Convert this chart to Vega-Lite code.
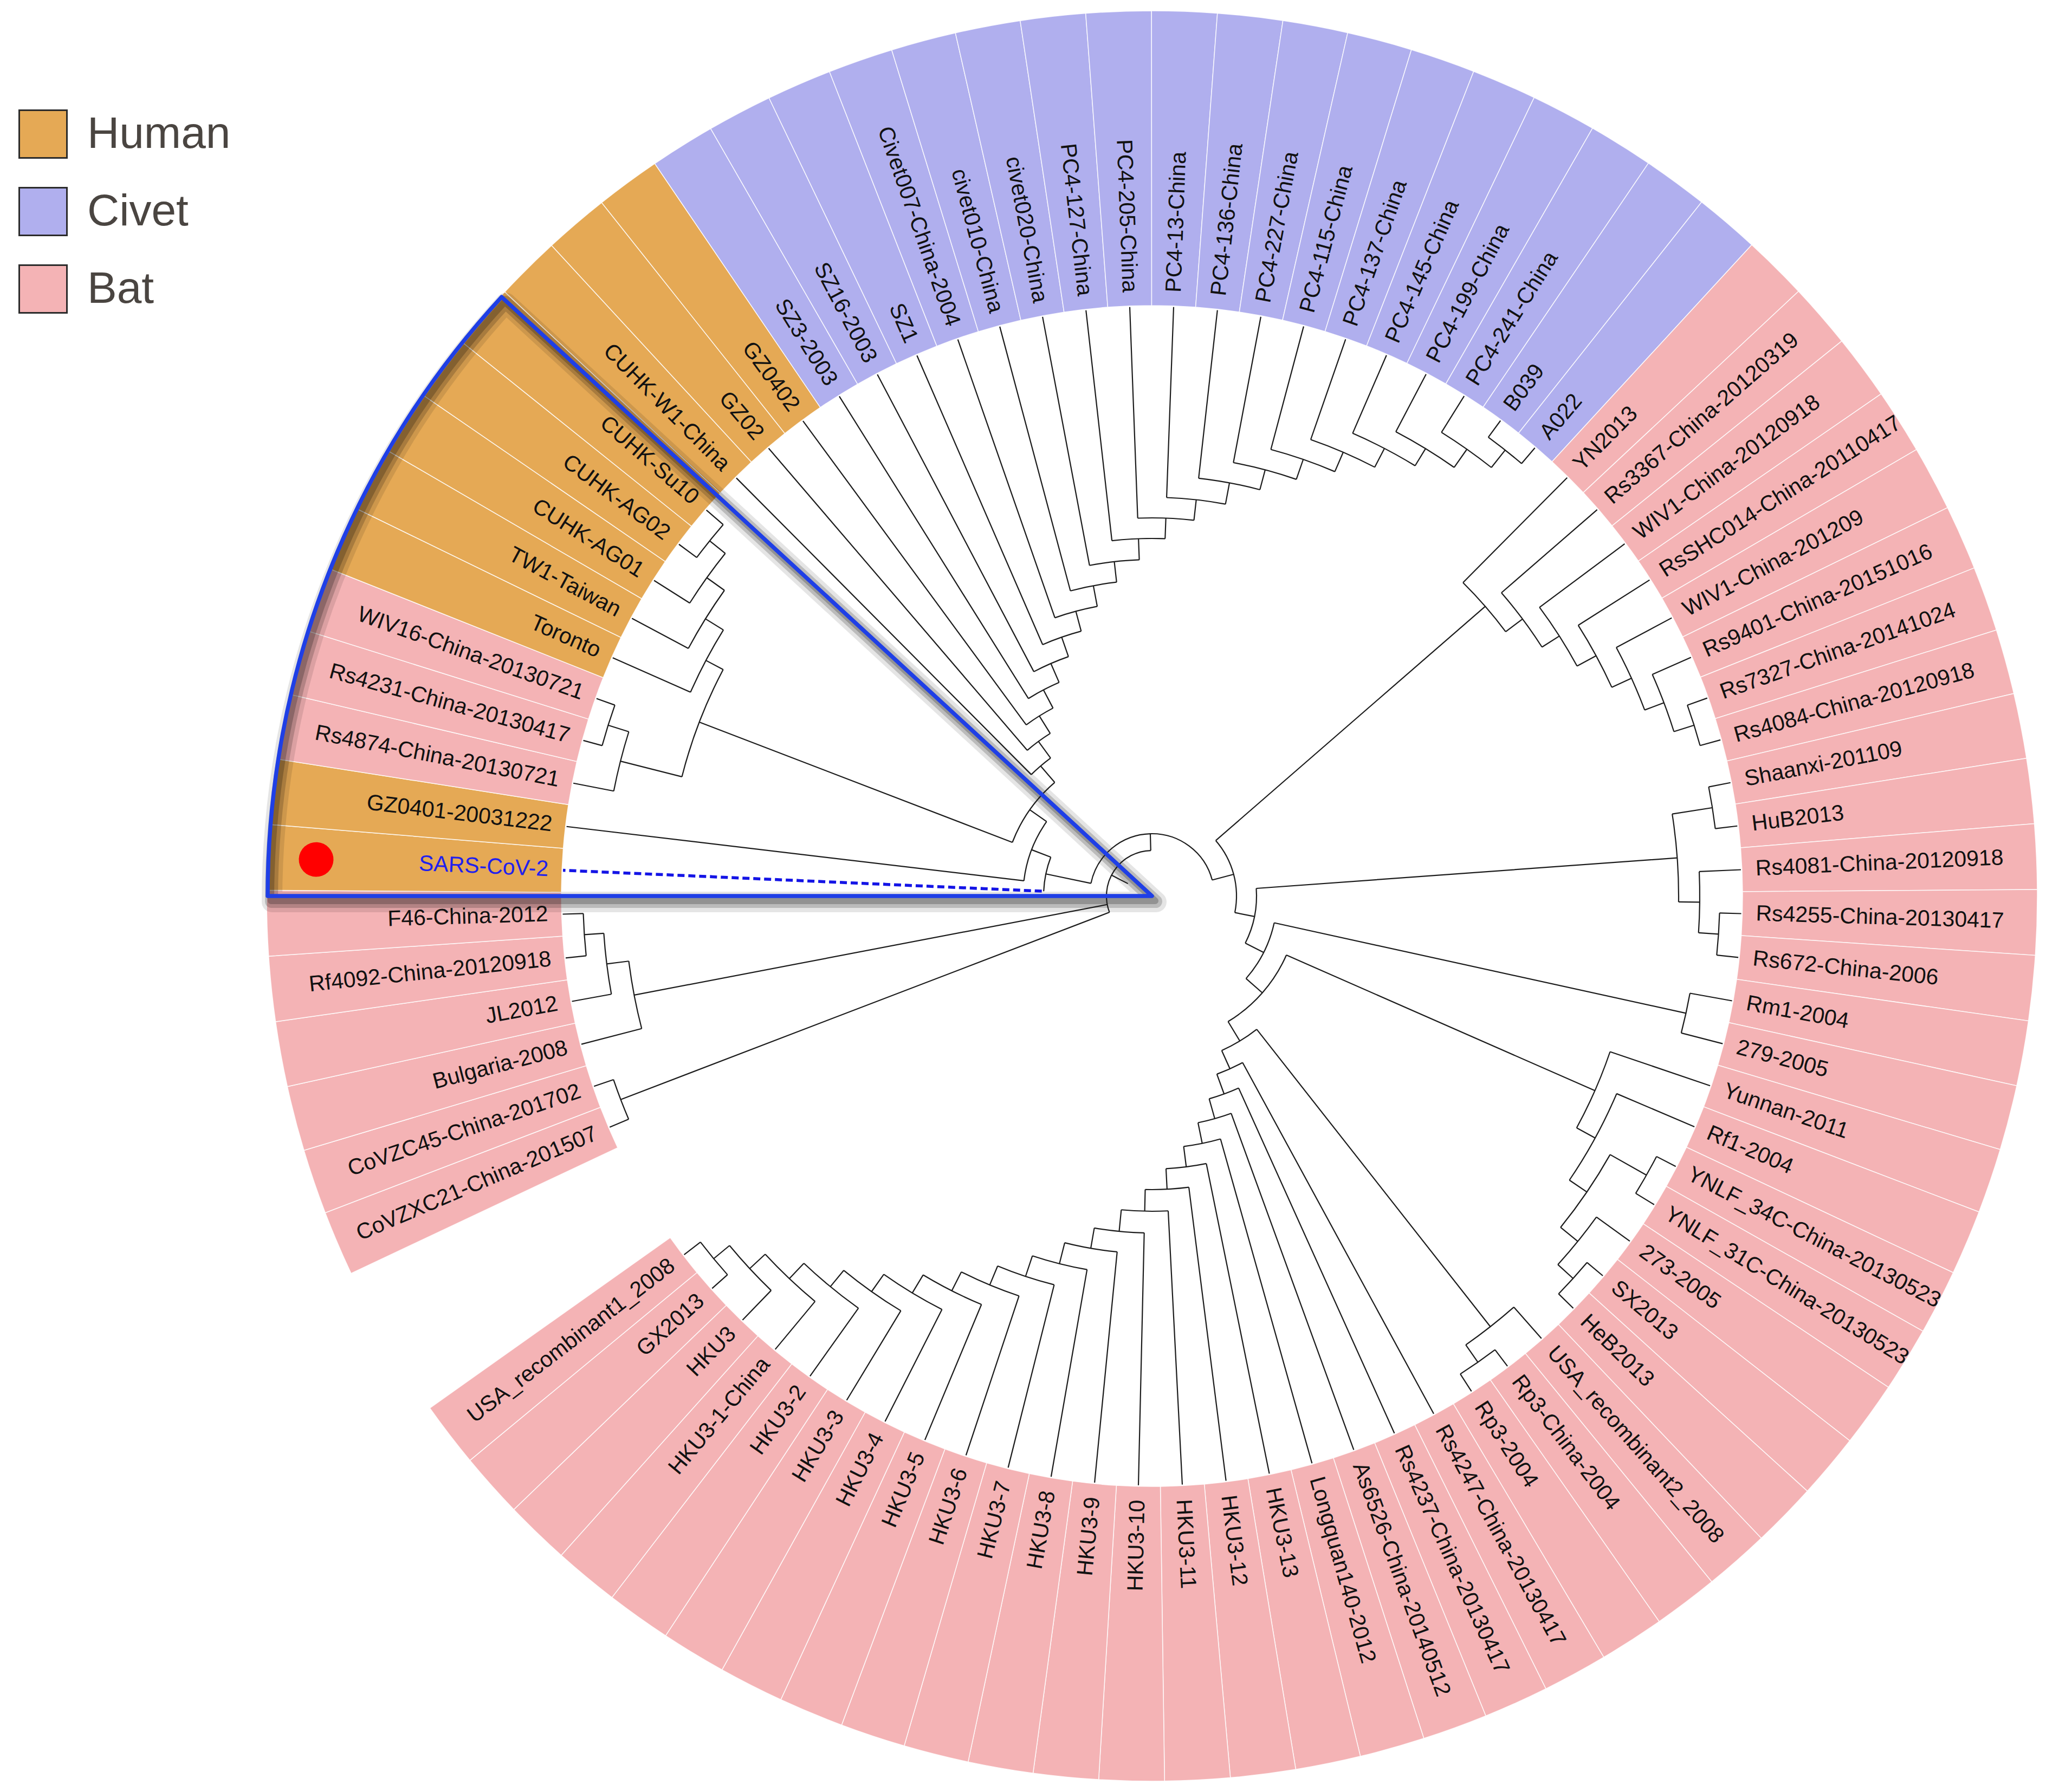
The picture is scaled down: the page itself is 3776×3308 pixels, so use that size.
{
 "$schema": "https://vega.github.io/schema/vega-lite/v6.json",
 "width": 3300,
 "height": 3308,
 "autosize": {"type": "none"},
 "padding": {"left": 476, "top": 0, "right": 0, "bottom": 0},
 "background": "#ffffff",
 "config": {"view": {"stroke": null}, "font": "Liberation Sans"},
 "datasets": {
  "leaves": [
   {"k":0,"name":"CoVZXC21-China-201507","host":"Bat","pr":1050},
   {"k":1,"name":"CoVZC45-China-201702","host":"Bat","pr":1050},
   {"k":2,"name":"Bulgaria-2008","host":"Bat","pr":973},
   {"k":3,"name":"JL2012","host":"Bat","pr":1014},
   {"k":4,"name":"Rf4092-China-20120918","host":"Bat","pr":1050},
   {"k":5,"name":"F46-China-2012","host":"Bat","pr":1050},
   {"k":6,"name":"SARS-CoV-2","host":"Human","pr":200},
   {"k":7,"name":"GZ0401-20031222","host":"Human","pr":238},
   {"k":8,"name":"Rs4874-China-20130721","host":"Bat","pr":1012},
   {"k":9,"name":"Rs4231-China-20130417","host":"Bat","pr":1052},
   {"k":10,"name":"WIV16-China-20130721","host":"Bat","pr":1052},
   {"k":11,"name":"Toronto","host":"Human","pr":931},
   {"k":12,"name":"TW1-Taiwan","host":"Human","pr":970},
   {"k":13,"name":"CUHK-AG01","host":"Human","pr":1010},
   {"k":14,"name":"CUHK-AG02","host":"Human","pr":1047},
   {"k":15,"name":"CUHK-Su10","host":"Human","pr":1047},
   {"k":16,"name":"CUHK-W1-China","host":"Human","pr":316},
   {"k":17,"name":"GZ02","host":"Human","pr":354},
   {"k":18,"name":"GZ0402","host":"Human","pr":392},
   {"k":19,"name":"SZ3-2003","host":"Civet","pr":430},
   {"k":20,"name":"SZ16-2003","host":"Civet","pr":468},
   {"k":21,"name":"SZ1","host":"Civet","pr":506},
   {"k":22,"name":"Civet007-China-2004","host":"Civet","pr":544},
   {"k":23,"name":"civet010-China","host":"Civet","pr":583},
   {"k":24,"name":"civet020-China","host":"Civet","pr":621},
   {"k":25,"name":"PC4-127-China","host":"Civet","pr":660},
   {"k":26,"name":"PC4-205-China","host":"Civet","pr":698},
   {"k":27,"name":"PC4-13-China","host":"Civet","pr":736},
   {"k":28,"name":"PC4-136-China","host":"Civet","pr":776},
   {"k":29,"name":"PC4-227-China","host":"Civet","pr":814},
   {"k":30,"name":"PC4-115-China","host":"Civet","pr":853},
   {"k":31,"name":"PC4-137-China","host":"Civet","pr":892},
   {"k":32,"name":"PC4-145-China","host":"Civet","pr":931},
   {"k":33,"name":"PC4-199-China","host":"Civet","pr":968},
   {"k":34,"name":"PC4-241-China","host":"Civet","pr":1009},
   {"k":35,"name":"B039","host":"Civet","pr":1050},
   {"k":36,"name":"A022","host":"Civet","pr":1050},
   {"k":37,"name":"YN2013","host":"Bat","pr":815},
   {"k":38,"name":"Rs3367-China-20120319","host":"Bat","pr":854},
   {"k":39,"name":"WIV1-China-20120918","host":"Bat","pr":892},
   {"k":40,"name":"RsSHC014-China-20110417","host":"Bat","pr":932},
   {"k":41,"name":"WIV1-China-201209","host":"Bat","pr":972},
   {"k":42,"name":"Rs9401-China-20151016","host":"Bat","pr":1010},
   {"k":43,"name":"Rs7327-China-20141024","host":"Bat","pr":1049},
   {"k":44,"name":"Rs4084-China-20120918","host":"Bat","pr":1049},
   {"k":45,"name":"Shaanxi-201109","host":"Bat","pr":1047},
   {"k":46,"name":"HuB2013","host":"Bat","pr":1047},
   {"k":47,"name":"Rs4081-China-20120918","host":"Bat","pr":1011},
   {"k":48,"name":"Rs4255-China-20130417","host":"Bat","pr":1048},
   {"k":49,"name":"Rs672-China-2006","host":"Bat","pr":1048},
   {"k":50,"name":"Rm1-2004","host":"Bat","pr":1009},
   {"k":51,"name":"279-2005","host":"Bat","pr":1009},
   {"k":52,"name":"Yunnan-2011","host":"Bat","pr":893},
   {"k":53,"name":"Rf1-2004","host":"Bat","pr":932},
   {"k":54,"name":"YNLF_34C-China-20130523","host":"Bat","pr":1048},
   {"k":55,"name":"YNLF_31C-China-20130523","host":"Bat","pr":1048},
   {"k":56,"name":"273-2005","host":"Bat","pr":1012},
   {"k":57,"name":"SX2013","host":"Bat","pr":1050},
   {"k":58,"name":"HeB2013","host":"Bat","pr":1050},
   {"k":59,"name":"USA_recombinant2_2008","host":"Bat","pr":1011},
   {"k":60,"name":"Rp3-China-2004","host":"Bat","pr":1050},
   {"k":61,"name":"Rp3-2004","host":"Bat","pr":1050},
   {"k":62,"name":"Rs4247-China-20130417","host":"Bat","pr":350},
   {"k":63,"name":"Rs4237-China-20130417","host":"Bat","pr":389},
   {"k":64,"name":"As6526-China-20140512","host":"Bat","pr":427},
   {"k":65,"name":"Longquan140-2012","host":"Bat","pr":466},
   {"k":66,"name":"HKU3-13","host":"Bat","pr":504},
   {"k":67,"name":"HKU3-12","host":"Bat","pr":542},
   {"k":68,"name":"HKU3-11","host":"Bat","pr":582},
   {"k":69,"name":"HKU3-10","host":"Bat","pr":622},
   {"k":70,"name":"HKU3-9","host":"Bat","pr":660},
   {"k":71,"name":"HKU3-8","host":"Bat","pr":700},
   {"k":72,"name":"HKU3-7","host":"Bat","pr":740},
   {"k":73,"name":"HKU3-6","host":"Bat","pr":778},
   {"k":74,"name":"HKU3-5","host":"Bat","pr":817},
   {"k":75,"name":"HKU3-4","host":"Bat","pr":856},
   {"k":76,"name":"HKU3-3","host":"Bat","pr":895},
   {"k":77,"name":"HKU3-2","host":"Bat","pr":934},
   {"k":78,"name":"HKU3-1-China","host":"Bat","pr":973},
   {"k":79,"name":"HKU3","host":"Bat","pr":1012},
   {"k":80,"name":"GX2013","host":"Bat","pr":1050},
   {"k":81,"name":"USA_recombinant1_2008","host":"Bat","pr":1050}
  ],
  "links": [
   {"t":11.8,"r0":50,"r1":84},
   {"t":0.5,"r0":84,"r1":1050},
   {"t":2.875,"r0":84,"r1":973},
   {"t":3.75,"r0":973,"r1":1014},
   {"t":4.5,"r0":1014,"r1":1050},
   {"t":26.15,"r0":84,"r1":115},
   {"t":8.17,"r0":115,"r1":200},
   {"t":10.34,"r0":200,"r1":238},
   {"t":13.67,"r0":238,"r1":276},
   {"t":10.34,"r0":276,"r1":895},
   {"t":8.75,"r0":895,"r1":1012},
   {"t":9.5,"r0":1012,"r1":1052},
   {"t":11.94,"r0":895,"r1":931},
   {"t":12.875,"r0":931,"r1":970},
   {"t":13.75,"r0":970,"r1":1010},
   {"t":14.5,"r0":1010,"r1":1047},
   {"t":17.0,"r0":276,"r1":316},
   {"t":18.0,"r0":316,"r1":354},
   {"t":19.0,"r0":354,"r1":392},
   {"t":20.0,"r0":392,"r1":430},
   {"t":21.0,"r0":430,"r1":468},
   {"t":22.0,"r0":468,"r1":506},
   {"t":23.0,"r0":506,"r1":544},
   {"t":24.0,"r0":544,"r1":583},
   {"t":25.0,"r0":583,"r1":621},
   {"t":26.0,"r0":621,"r1":660},
   {"t":27.0,"r0":660,"r1":698},
   {"t":28.0,"r0":698,"r1":736},
   {"t":28.996,"r0":736,"r1":776},
   {"t":29.992,"r0":776,"r1":814},
   {"t":30.984,"r0":814,"r1":853},
   {"t":31.969,"r0":853,"r1":892},
   {"t":32.938,"r0":892,"r1":931},
   {"t":33.875,"r0":931,"r1":968},
   {"t":34.75,"r0":968,"r1":1009},
   {"t":35.5,"r0":1009,"r1":1050},
   {"t":44.12,"r0":115,"r1":156},
   {"t":37.99,"r0":156,"r1":815},
   {"t":38.98,"r0":815,"r1":854},
   {"t":39.97,"r0":854,"r1":892},
   {"t":40.94,"r0":892,"r1":932},
   {"t":41.875,"r0":932,"r1":972},
   {"t":42.75,"r0":972,"r1":1010},
   {"t":43.5,"r0":1010,"r1":1049},
   {"t":50.25,"r0":156,"r1":193},
   {"t":46.625,"r0":193,"r1":972},
   {"t":45.5,"r0":972,"r1":1047},
   {"t":47.75,"r0":972,"r1":1011},
   {"t":48.5,"r0":1011,"r1":1048},
   {"t":53.88,"r0":193,"r1":231},
   {"t":50.5,"r0":231,"r1":1009},
   {"t":57.27,"r0":231,"r1":271},
   {"t":53.16,"r0":271,"r1":893},
   {"t":54.31,"r0":893,"r1":932},
   {"t":55.625,"r0":932,"r1":971},
   {"t":54.5,"r0":971,"r1":1048},
   {"t":56.75,"r0":971,"r1":1012},
   {"t":57.5,"r0":1012,"r1":1050},
   {"t":61.375,"r0":271,"r1":313},
   {"t":59.75,"r0":313,"r1":1011},
   {"t":60.5,"r0":1011,"r1":1050},
   {"t":63.0,"r0":313,"r1":350},
   {"t":64.0,"r0":350,"r1":389},
   {"t":65.0,"r0":389,"r1":427},
   {"t":66.0,"r0":427,"r1":466},
   {"t":67.0,"r0":466,"r1":504},
   {"t":68.0,"r0":504,"r1":542},
   {"t":69.0,"r0":542,"r1":582},
   {"t":70.0,"r0":582,"r1":622},
   {"t":71.0,"r0":622,"r1":660},
   {"t":72.0,"r0":660,"r1":700},
   {"t":72.998,"r0":700,"r1":740},
   {"t":73.996,"r0":740,"r1":778},
   {"t":74.992,"r0":778,"r1":817},
   {"t":75.984,"r0":817,"r1":856},
   {"t":76.969,"r0":856,"r1":895},
   {"t":77.938,"r0":895,"r1":934},
   {"t":78.875,"r0":934,"r1":973},
   {"t":79.75,"r0":973,"r1":1012},
   {"t":80.5,"r0":1012,"r1":1050}
  ],
  "spans": [
   {"t1":0.5,"t2":26.15,"r":84},
   {"t1":0,"t2":1,"r":1050},
   {"t1":2,"t2":3.75,"r":973},
   {"t1":3,"t2":4.5,"r":1014},
   {"t1":4,"t2":5,"r":1050},
   {"t1":8.17,"t2":44.12,"r":115},
   {"t1":6,"t2":10.34,"r":200},
   {"t1":7,"t2":13.67,"r":238},
   {"t1":10.34,"t2":17.0,"r":276},
   {"t1":8.75,"t2":11.94,"r":895},
   {"t1":8,"t2":9.5,"r":1012},
   {"t1":9,"t2":10,"r":1052},
   {"t1":11,"t2":12.875,"r":931},
   {"t1":12,"t2":13.75,"r":970},
   {"t1":13,"t2":14.5,"r":1010},
   {"t1":14,"t2":15,"r":1047},
   {"t1":16,"t2":18.0,"r":316},
   {"t1":17,"t2":19.0,"r":354},
   {"t1":18,"t2":20.0,"r":392},
   {"t1":19,"t2":21.0,"r":430},
   {"t1":20,"t2":22.0,"r":468},
   {"t1":21,"t2":23.0,"r":506},
   {"t1":22,"t2":24.0,"r":544},
   {"t1":23,"t2":25.0,"r":583},
   {"t1":24,"t2":26.0,"r":621},
   {"t1":25,"t2":27.0,"r":660},
   {"t1":26,"t2":28.0,"r":698},
   {"t1":27,"t2":28.996,"r":736},
   {"t1":28,"t2":29.992,"r":776},
   {"t1":29,"t2":30.984,"r":814},
   {"t1":30,"t2":31.969,"r":853},
   {"t1":31,"t2":32.938,"r":892},
   {"t1":32,"t2":33.875,"r":931},
   {"t1":33,"t2":34.75,"r":968},
   {"t1":34,"t2":35.5,"r":1009},
   {"t1":35,"t2":36,"r":1050},
   {"t1":37.99,"t2":50.25,"r":156},
   {"t1":37,"t2":38.98,"r":815},
   {"t1":38,"t2":39.97,"r":854},
   {"t1":39,"t2":40.94,"r":892},
   {"t1":40,"t2":41.875,"r":932},
   {"t1":41,"t2":42.75,"r":972},
   {"t1":42,"t2":43.5,"r":1010},
   {"t1":43,"t2":44,"r":1049},
   {"t1":46.625,"t2":53.88,"r":193},
   {"t1":45.5,"t2":47.75,"r":972},
   {"t1":45,"t2":46,"r":1047},
   {"t1":47,"t2":48.5,"r":1011},
   {"t1":48,"t2":49,"r":1048},
   {"t1":50.5,"t2":57.27,"r":231},
   {"t1":50,"t2":51,"r":1009},
   {"t1":53.16,"t2":61.375,"r":271},
   {"t1":52,"t2":54.31,"r":893},
   {"t1":53,"t2":55.625,"r":932},
   {"t1":54.5,"t2":56.75,"r":971},
   {"t1":54,"t2":55,"r":1048},
   {"t1":56,"t2":57.5,"r":1012},
   {"t1":57,"t2":58,"r":1050},
   {"t1":59.75,"t2":63.0,"r":313},
   {"t1":59,"t2":60.5,"r":1011},
   {"t1":60,"t2":61,"r":1050},
   {"t1":62,"t2":64.0,"r":350},
   {"t1":63,"t2":65.0,"r":389},
   {"t1":64,"t2":66.0,"r":427},
   {"t1":65,"t2":67.0,"r":466},
   {"t1":66,"t2":68.0,"r":504},
   {"t1":67,"t2":69.0,"r":542},
   {"t1":68,"t2":70.0,"r":582},
   {"t1":69,"t2":71.0,"r":622},
   {"t1":70,"t2":72.0,"r":660},
   {"t1":71,"t2":72.998,"r":700},
   {"t1":72,"t2":73.996,"r":740},
   {"t1":73,"t2":74.992,"r":778},
   {"t1":74,"t2":75.984,"r":817},
   {"t1":75,"t2":76.969,"r":856},
   {"t1":76,"t2":77.938,"r":895},
   {"t1":77,"t2":78.875,"r":934},
   {"t1":78,"t2":79.75,"r":973},
   {"t1":79,"t2":80.5,"r":1012},
   {"t1":80,"t2":81,"r":1050}
  ],
  "highlight": [{"t1": 5.414, "t2": 15.41, "r": 1632}],
  "marker": [{"k": 6, "r1": 1512, "r2": 1576}]
 },
 "resolve": {"scale": {"angle": "independent"}},
 "layer": [
  {
   "data": {"name": "leaves"},
   "mark": {"type": "arc", "stroke": "#ffffff", "strokeWidth": 1.5, "strokeOpacity": 0.85, "thetaOffset": -0.037236, "theta2Offset": 0.037236},
   "encoding": {
    "theta": {"field": "k", "type": "quantitative", "stack": null, "scale": {"type": "linear", "domain": [0, 84.37], "range": [4.30922, 10.59241], "zero": false, "nice": false}},
    "theta2": {"field": "k"},
    "radius": {"datum": 1090, "type": "quantitative", "scale": {"type": "linear", "domain": [0, 1650], "range": [0, 1650], "zero": false, "nice": false}},
    "radius2": {"datum": 1634},
    "color": {
     "field": "host", "type": "nominal",
     "scale": {"domain": ["Human", "Civet", "Bat"], "range": ["#E5A955", "#B0AFEE", "#F4B3B5"]},
     "legend": {"title": null, "orient": "none", "legendX": -442, "legendY": 202, "symbolType": "square", "symbolSize": 7744, "symbolStrokeColor": "#2b2b2b", "symbolStrokeWidth": 3, "symbolOpacity": 1, "labelFontSize": 82, "labelFont": "Liberation Sans", "labelColor": "#4a4541", "labelOffset": 36, "labelLimit": 600, "rowPadding": 42}
    }
   }
  },
  {
   "data": {"name": "highlight"},
   "mark": {"type": "arc", "filled": false, "stroke": "#000000", "strokeWidth": 38, "opacity": 0.1, "strokeJoin": "round", "xOffset": 8, "yOffset": 11},
   "encoding": {
    "theta": {"field": "t1", "type": "quantitative", "stack": null},
    "theta2": {"field": "t2"},
    "radius": {"field": "r", "type": "quantitative"},
    "radius2": {"datum": 0}
   }
  },
  {
   "data": {"name": "highlight"},
   "mark": {"type": "arc", "filled": false, "stroke": "#000000", "strokeWidth": 24, "opacity": 0.18, "strokeJoin": "round", "xOffset": 7, "yOffset": 10},
   "encoding": {
    "theta": {"field": "t1", "type": "quantitative", "stack": null},
    "theta2": {"field": "t2"},
    "radius": {"field": "r", "type": "quantitative"},
    "radius2": {"datum": 0}
   }
  },
  {
   "data": {"name": "highlight"},
   "mark": {"type": "arc", "filled": false, "stroke": "#000000", "strokeWidth": 12, "opacity": 0.22, "strokeJoin": "round", "xOffset": 6, "yOffset": 9},
   "encoding": {
    "theta": {"field": "t1", "type": "quantitative", "stack": null},
    "theta2": {"field": "t2"},
    "radius": {"field": "r", "type": "quantitative"},
    "radius2": {"datum": 0}
   }
  },
  {
   "data": {"name": "spans"},
   "mark": {"type": "arc", "filled": false, "stroke": "#1c1c1c", "strokeWidth": 2.2},
   "encoding": {
    "theta": {"field": "t1", "type": "quantitative", "stack": null},
    "theta2": {"field": "t2"},
    "radius": {"field": "r", "type": "quantitative"},
    "radius2": {"field": "r"}
   }
  },
  {
   "data": {"name": "links"},
   "mark": {"type": "arc", "filled": false, "stroke": "#1c1c1c", "strokeWidth": 2.2},
   "encoding": {
    "theta": {"field": "t", "type": "quantitative", "stack": null},
    "theta2": {"field": "t"},
    "radius": {"field": "r0", "type": "quantitative"},
    "radius2": {"field": "r1"}
   }
  },
  {
   "data": {"name": "leaves"},
   "transform": [{"filter": "datum.name !== 'SARS-CoV-2'"}],
   "mark": {"type": "arc", "filled": false, "stroke": "#1c1c1c", "strokeWidth": 2.2},
   "encoding": {
    "theta": {"field": "k", "type": "quantitative", "stack": null},
    "theta2": {"field": "k"},
    "radius": {"field": "pr", "type": "quantitative"},
    "radius2": {"datum": 1088}
   }
  },
  {
   "data": {"name": "leaves"},
   "transform": [{"filter": "datum.name === 'SARS-CoV-2'"}],
   "mark": {"type": "arc", "filled": false, "stroke": "#1414e6", "strokeWidth": 5.5, "strokeDash": [13, 7], "strokeDashOffset": 8.5},
   "encoding": {
    "theta": {"field": "k", "type": "quantitative", "stack": null},
    "theta2": {"field": "k"},
    "radius": {"field": "pr", "type": "quantitative"},
    "radius2": {"datum": 1088}
   }
  },
  {
   "data": {"name": "leaves"},
   "transform": [{"filter": "datum.k >= 27 && datum.k <= 68"}],
   "mark": {"type": "text", "align": "left", "baseline": "middle", "fontSize": 41, "font": "Liberation Sans", "color": "#111111"},
   "encoding": {
    "text": {"field": "name", "type": "nominal"},
    "theta": {"field": "k", "type": "quantitative"},
    "radius": {"datum": 1115, "type": "quantitative"},
    "angle": {"field": "k", "type": "quantitative", "legend": null, "scale": {"type": "linear", "domain": [0, 84.37], "range": [-203.1, 156.9], "zero": false, "nice": false}}
   }
  },
  {
   "data": {"name": "leaves"},
   "transform": [{"filter": "datum.k <= 26 || datum.k >= 69"}],
   "mark": {"type": "text", "align": "right", "baseline": "middle", "fontSize": 41, "font": "Liberation Sans"},
   "encoding": {
    "text": {"field": "name", "type": "nominal"},
    "theta": {"field": "k", "type": "quantitative"},
    "radius": {"datum": 1115, "type": "quantitative"},
    "angle": {"field": "k", "type": "quantitative", "legend": null, "scale": {"type": "linear", "domain": [0, 84.37], "range": [-383.1, -23.1], "zero": false, "nice": false}},
    "color": {"condition": {"test": "datum.name === 'SARS-CoV-2'", "value": "#2020ee"}, "value": "#111111"}
   }
  },
  {
   "data": {"name": "highlight"},
   "mark": {"type": "arc", "filled": false, "stroke": "#1f3fe6", "strokeWidth": 7.5, "strokeJoin": "round"},
   "encoding": {
    "theta": {"field": "t1", "type": "quantitative", "stack": null},
    "theta2": {"field": "t2"},
    "radius": {"field": "r", "type": "quantitative"},
    "radius2": {"datum": 0}
   }
  },
  {
   "data": {"name": "marker"},
   "mark": {"type": "arc", "fill": "#ff0000", "cornerRadius": 32, "thetaOffset": -0.0207, "theta2Offset": 0.0207},
   "encoding": {
    "theta": {"field": "k", "type": "quantitative", "stack": null},
    "theta2": {"field": "k"},
    "radius": {"field": "r1", "type": "quantitative"},
    "radius2": {"field": "r2"}
   }
  }
 ]
}
